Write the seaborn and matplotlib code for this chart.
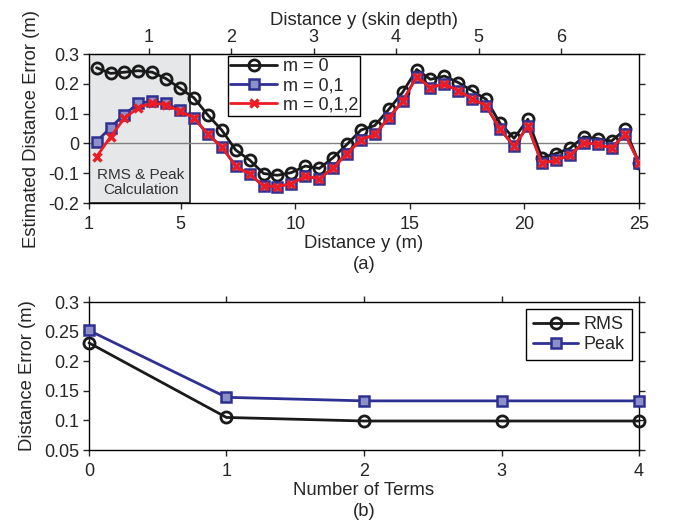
import numpy as np
import pandas as pd
import matplotlib
matplotlib.use("Agg")
import matplotlib.pyplot as plt
import seaborn as sns

# distance samples (m)
dist_y = [1.33, 1.94, 2.54, 3.15, 3.76, 4.37, 4.97, 5.58, 6.19, 6.80,
          7.40, 8.01, 8.62, 9.22, 9.83, 10.44, 11.05, 11.65, 12.26, 12.87,
          13.47, 14.08, 14.69, 15.30, 15.90, 16.51, 17.12, 17.73, 18.33, 18.94,
          19.55, 20.15, 20.76, 21.37, 21.98, 22.58, 23.19, 23.80, 24.40, 25.00]

err_m0 = [0.254, 0.235, 0.239, 0.244, 0.239, 0.217, 0.185, 0.153, 0.095, 0.044,
          -0.022, -0.056, -0.101, -0.107, -0.098, -0.076, -0.084, -0.048, -0.003, 0.045,
          0.060, 0.114, 0.172, 0.248, 0.215, 0.226, 0.204, 0.176, 0.148, 0.067,
          0.017, 0.081, -0.048, -0.034, -0.017, 0.022, 0.016, 0.008, 0.047, -0.065]

err_m01 = [0.006, 0.053, 0.097, 0.134, 0.142, 0.134, 0.112, 0.086, 0.030, -0.012,
           -0.076, -0.104, -0.143, -0.145, -0.135, -0.110, -0.119, -0.082, -0.034, 0.012,
           0.030, 0.086, 0.142, 0.224, 0.187, 0.200, 0.176, 0.150, 0.125, 0.047,
           -0.009, 0.058, -0.067, -0.056, -0.040, 0.002, -0.003, -0.015, 0.030, -0.065]

err_m012 = [-0.045, 0.022, 0.084, 0.120, 0.136, 0.129, 0.108, 0.086, 0.030, -0.012,
            -0.076, -0.104, -0.143, -0.145, -0.135, -0.110, -0.119, -0.082, -0.034, 0.012,
            0.030, 0.086, 0.142, 0.224, 0.187, 0.200, 0.176, 0.150, 0.125, 0.047,
            -0.009, 0.058, -0.067, -0.056, -0.040, 0.002, -0.003, -0.015, 0.030, -0.065]

# panel (b)
n_terms = [0, 1, 2, 3, 4]
rms_err = [0.231, 0.105, 0.099, 0.099, 0.099]
peak_err = [0.252, 0.139, 0.133, 0.133, 0.133]

skin_depth = 3.6  # m
calc_region = (1.0, 5.4)

sns.set_style("ticks")
plt.rcParams['font.family'] = ['Liberation Sans', 'DejaVu Sans']
plt.rcParams['xtick.direction'] = 'out'
plt.rcParams['ytick.direction'] = 'out'

BLACK = '#1a1a1a'
BLUE = '#2e3192'
RED = '#ed1c24'
TICK_FS = 13
LABEL_FS = 13.3
LEG_FS = 13

fig = plt.figure(figsize=(6.73, 5.27), dpi=100)
ax1 = fig.add_axes([0.1322, 0.6148, 0.8173, 0.2827])
ax2 = fig.add_axes([0.1322, 0.1461, 0.8173, 0.2808])

# ---- (a) ----
ax1.axvspan(calc_region[0], calc_region[1], facecolor='#e6e7e8', edgecolor='#333333',
            linewidth=1.3, zorder=0)
ax1.axhline(0, color='#808080', linewidth=1.0, zorder=1)
ax1.text(sum(calc_region) / 2 + 0.05, -0.132, 'RMS & Peak\nCalculation', ha='center', va='center',
         fontsize=11, color='#333333', linespacing=1.1)

df_a = pd.DataFrame({'y': dist_y, 'm0': err_m0, 'm01': err_m01, 'm012': err_m012})
sns.lineplot(data=df_a, x='y', y='m0', ax=ax1, color=BLACK, linewidth=2.0, marker='o',
             markersize=8, markerfacecolor='none', markeredgecolor=BLACK, markeredgewidth=2,
             label='m = 0', zorder=3)
sns.lineplot(data=df_a, x='y', y='m01', ax=ax1, color=BLUE, linewidth=2.0, marker='s',
             markersize=7, markerfacecolor='#8c8fc8', markeredgecolor=BLUE, markeredgewidth=1.8,
             label='m = 0,1', zorder=4)
sns.lineplot(data=df_a, x='y', y='m012', ax=ax1, color=RED, linewidth=2.0, marker='x',
             markersize=6, markeredgecolor=RED, markeredgewidth=2.4,
             label='m = 0,1,2', zorder=5)

ax1.set_xlim(1, 25)
ax1.set_ylim(-0.2, 0.3)
ax1.set_xticks([1, 5, 10, 15, 20, 25])
ax1.set_yticks([-0.2, -0.1, 0, 0.1, 0.2, 0.3])
ax1.set_yticklabels(['-0.2', '-0.1', '0', '0.1', '0.2', '0.3'])
ax1.set_xlabel('Distance y (m)\n(a)', fontsize=LABEL_FS, labelpad=2, linespacing=1.3)
ax1.set_ylabel('Estimated Distance Error (m)', fontsize=LABEL_FS, labelpad=6)
ax1.tick_params(axis='both', labelsize=TICK_FS, length=4.5, width=1, pad=2.5)
ax1.tick_params(axis='x', pad=4.5)
ax1.tick_params(axis='y', right=True)
ax1.legend(loc='upper left', bbox_to_anchor=(0.253, 0.987), fontsize=LEG_FS, frameon=True,
           fancybox=False, edgecolor='black', framealpha=1, borderpad=0.12,
           labelspacing=0.12, handlelength=2.6, handletextpad=0.3, borderaxespad=0)

top = ax1.secondary_xaxis('top', functions=(lambda d: d / skin_depth, lambda s: s * skin_depth))
top.set_xticks([1, 2, 3, 4, 5, 6])
top.tick_params(labelsize=TICK_FS, length=4.5, width=1, pad=1)
top.set_xlabel('Distance y (skin depth)', fontsize=LABEL_FS, labelpad=3)

# ---- (b) ----
df_b = pd.DataFrame({'n': n_terms, 'RMS': rms_err, 'Peak': peak_err})
sns.lineplot(data=df_b, x='n', y='RMS', ax=ax2, color=BLACK, linewidth=2.0, marker='o',
             markersize=8, markerfacecolor='none', markeredgecolor=BLACK, markeredgewidth=2,
             label='RMS', zorder=3, clip_on=False)
sns.lineplot(data=df_b, x='n', y='Peak', ax=ax2, color=BLUE, linewidth=2.0, marker='s',
             markersize=7, markerfacecolor='#8c8fc8', markeredgecolor=BLUE, markeredgewidth=1.8,
             label='Peak', zorder=4, clip_on=False)
ax2.set_xlim(0, 4)
ax2.set_ylim(0.05, 0.3)
ax2.set_xticks([0, 1, 2, 3, 4])
ax2.set_yticks([0.05, 0.1, 0.15, 0.2, 0.25, 0.3])
ax2.set_yticklabels(['0.05', '0.1', '0.15', '0.2', '0.25', '0.3'])
ax2.set_xlabel('Number of Terms\n(b)', fontsize=LABEL_FS, labelpad=2, linespacing=1.3)
ax2.set_ylabel('Distance Error (m)', fontsize=LABEL_FS, labelpad=6)
ax2.tick_params(axis='both', labelsize=TICK_FS, length=4.5, width=1, pad=2.5)
ax2.tick_params(axis='x', top=True, pad=4.5)
ax2.tick_params(axis='y', right=True)
ax2.legend(loc='upper right', bbox_to_anchor=(0.987, 0.953), fontsize=LEG_FS, frameon=True,
           fancybox=False, edgecolor='black', framealpha=1, borderpad=0.4,
           labelspacing=0.15, handlelength=2.5, handletextpad=0.3, borderaxespad=0)

for ax in (ax1, ax2):
    for s in ax.spines.values():
        s.set_visible(True)
        s.set_linewidth(1.0)
        s.set_color('black')

fig.savefig('out.png', dpi=100)
